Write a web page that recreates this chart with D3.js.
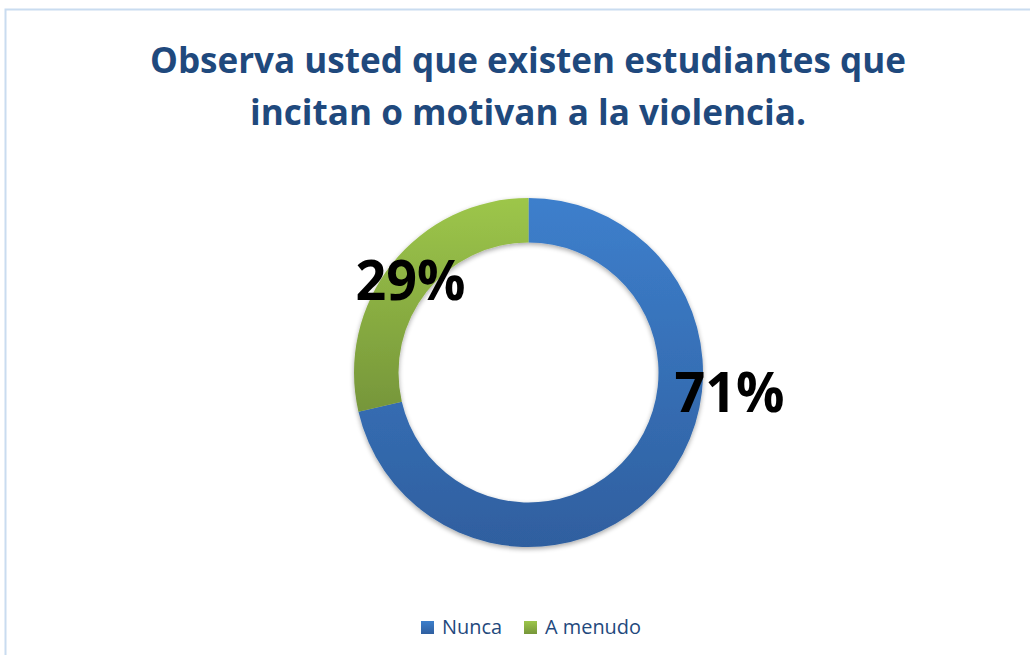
<!DOCTYPE html>
<html>
<head>
<meta charset="utf-8">
<script src="https://cdn.jsdelivr.net/npm/d3@7/dist/d3.min.js"></script>
<style>
  html, body { margin: 0; padding: 0; background: #ffffff; }
  svg { display: block; }
</style>
</head>
<body>
<script>
// ---- data ----
const categories = ["Nunca", "A menudo"];
const values = [71.4, 28.6];
const labels = ["71%", "29%"];
const titleLines = ["Observa usted que existen estudiantes que", "incitan o motivan a la violencia."];

const W = 1030, H = 655;
const svg = d3.select("body").append("svg").attr("width", W).attr("height", H);

const defs = svg.append("defs");
const grads = [
  { id: "gBlue", top: "#3d7fcc", bottom: "#2f5f9f" },
  { id: "gGreen", top: "#9dc64a", bottom: "#76963a" }
];
grads.forEach(g => {
  const lg = defs.append("linearGradient").attr("id", g.id)
    .attr("x1", 0).attr("y1", 0).attr("x2", 0).attr("y2", 1);
  lg.append("stop").attr("offset", "0%").attr("stop-color", g.top);
  lg.append("stop").attr("offset", "100%").attr("stop-color", g.bottom);
});
const f = defs.append("filter").attr("id", "shadow")
  .attr("x", "-10%").attr("y", "-10%").attr("width", "120%").attr("height", "120%");
f.append("feGaussianBlur").attr("in", "SourceAlpha").attr("stdDeviation", 2.5).attr("result", "b");
f.append("feOffset").attr("in", "b").attr("dx", 0).attr("dy", 2).attr("result", "o");
f.append("feComponentTransfer").attr("in", "o").attr("result", "o2")
  .append("feFuncA").attr("type", "linear").attr("slope", 0.35);
const fm = f.append("feMerge");
fm.append("feMergeNode").attr("in", "o2");
fm.append("feMergeNode").attr("in", "SourceGraphic");

// frame
svg.append("path")
  .attr("d", "M5.5,660 L5.5,9.5 L1040,9.5")
  .attr("fill", "none").attr("stroke", "#c9dcf0").attr("stroke-width", 2);

// title
const titleColor = "#1f497d";
const tl = [{ y: 73, len: 756 }, { y: 125, len: 556 }];
svg.selectAll("text.title").data(titleLines).enter().append("text")
  .attr("class", "title")
  .attr("x", 528).attr("y", (d, i) => tl[i].y)
  .attr("text-anchor", "middle")
  .attr("font-family", "'Open Sans', 'Liberation Sans', sans-serif")
  .attr("font-weight", "bold").attr("font-size", 36)
  .attr("textLength", (d, i) => tl[i].len)
  .attr("lengthAdjust", "spacingAndGlyphs")
  .attr("fill", titleColor)
  .text(d => d);

// donut
const cx = 528.5, cy = 372.5;
const color = d3.scaleOrdinal().domain(categories).range(["url(#gBlue)", "url(#gGreen)"]);
const pie = d3.pie().sort(null).value(d => d.v);
const arc = d3.arc().innerRadius(130).outerRadius(174.5);
const data = categories.map((c, i) => ({ c, v: values[i], l: labels[i] }));
const arcs = pie(data);

const g = svg.append("g").attr("transform", `translate(${cx},${cy})`);
g.append("g").attr("filter", "url(#shadow)")
  .selectAll("path").data(arcs).enter().append("path")
  .attr("d", arc)
  .attr("fill", d => color(d.data.c));

// labels (manually placed like the original)
const labelPos = [{ dx: 201, y: 412 }, { dx: -118, y: 300 }];
g.selectAll("text.lab").data(arcs).enter().append("text")
  .attr("class", "lab")
  .attr("x", (d, i) => labelPos[i].dx)
  .attr("y", (d, i) => labelPos[i].y - cy)
  .attr("text-anchor", "middle")
  .attr("font-family", "'Open Sans', 'Liberation Sans', sans-serif")
  .attr("font-weight", "bold").attr("font-size", 56)
  .attr("textLength", 110).attr("lengthAdjust", "spacingAndGlyphs")
  .attr("fill", "#000000")
  .text(d => d.data.l);

// legend
const legendX = [421, 524];
const legendLen = [60, 96];
const lg = svg.append("g");
const items = lg.selectAll("g").data(categories).enter().append("g")
  .attr("transform", (d, i) => `translate(${legendX[i]},621)`);
items.append("rect").attr("width", 13).attr("height", 13)
  .attr("fill", d => color(d));
items.append("text")
  .attr("x", 21).attr("y", 13)
  .attr("font-family", "'Open Sans', 'Liberation Sans', sans-serif")
  .attr("font-size", 20)
  .attr("textLength", (d, i) => legendLen[i])
  .attr("lengthAdjust", "spacingAndGlyphs")
  .attr("fill", titleColor)
  .text(d => d);
</script>
</body>
</html>
